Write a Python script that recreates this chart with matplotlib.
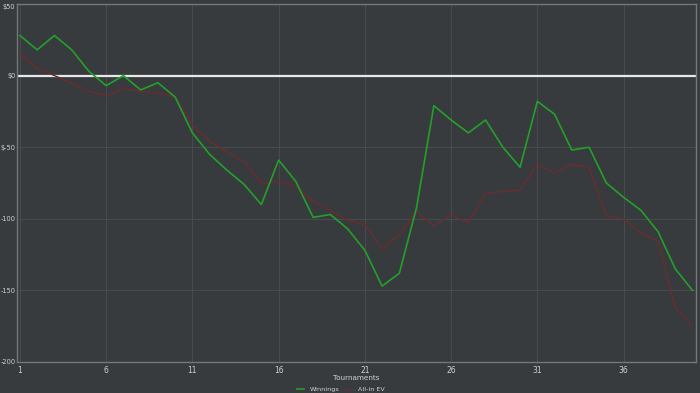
import matplotlib
matplotlib.use("Agg")
import matplotlib.pyplot as plt
import numpy as np

tournaments = np.arange(1, 41)
winnings = [28, 18, 28, 18, 3, -7, 0, -10, -5, -15,
            -40, -55, -66, -76, -90, -59, -74, -99, -97, -107,
            -122, -147, -138, -92, -21, -31, -40, -31, -50, -64,
            -18, -27, -52, -50, -75, -85, -94, -109, -135, -150]
allin_ev = [15, 5, 0, -5, -11, -14, -9, -11, -12, -15,
            -34, -46, -53, -60, -75, -74, -77, -88, -94, -101,
            -104, -121, -111, -95, -105, -97, -103, -82, -81, -80,
            -62, -68, -62, -64, -98, -100, -110, -116, -162, -175]
yticks = [50, 0, -50, -100, -150, -200]
ytick_labels = ["$50", "$0", "$-50", "-100", "-150", "-200"]
xticks = [1, 6, 11, 16, 21, 26, 31, 36]

bg = "#383b3e"
fig = plt.figure(figsize=(7, 3.93), dpi=100, facecolor=bg)
ax = fig.add_axes([17/700, 1-362/393, 679/700, 358/393])
ax.set_facecolor(bg)

ax.grid(True, color="#484b4e", lw=0.8)
ax.set_axisbelow(True)
ax.axhline(0, color="#e8e8e8", lw=1.6, zorder=2)
ax.plot(tournaments, allin_ev, color="#6b2c2e", lw=1.0, zorder=3, label="All-in EV")
ax.plot(tournaments, winnings, color="#22a02a", lw=1.2, zorder=4, label="Winnings")

ax.set_xlim(0.83, 40.2)
ax.set_ylim(-200, 50)
ax.set_xticks(xticks)
ax.set_yticks(yticks)
ax.set_yticklabels(ytick_labels)
ax.tick_params(colors="#d0d0d0", labelsize=5.5, length=0, pad=3)
ax.tick_params(axis="y", labelsize=4.8, pad=1)
# keep top label inside the figure
ax.get_yticklabels()[0].set_va("top")
for s in ax.spines.values():
    s.set_color("#75787b")
    s.set_linewidth(1.0)
ax.set_xlabel("Tournaments", color="#d0d0d0", fontsize=5.2, va="center")
ax.xaxis.set_label_coords(0.5, -16/358)

handles, labels = ax.get_legend_handles_labels()
leg = fig.legend(handles[::-1], labels[::-1], loc="lower center", bbox_to_anchor=(0.487, -0.008),
                 ncol=2, frameon=False, fontsize=4.6, labelcolor="#d0d0d0",
                 handlelength=1.2, handleheight=0.8, columnspacing=1.0, borderpad=0.1)

fig.savefig("out.png", dpi=100, facecolor=bg)
